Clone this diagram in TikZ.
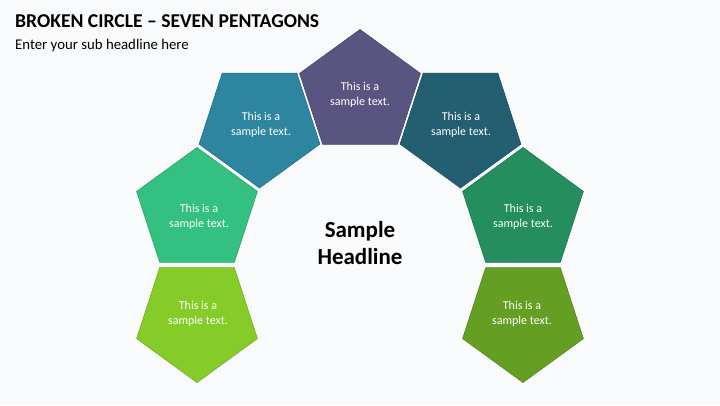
\documentclass[tikz,border=0pt]{standalone}
\usepackage{fontspec}
\setmainfont{Carlito}
\usetikzlibrary{shapes.geometric}
\definecolor{bgc}{HTML}{F9FAFB}
\definecolor{cpurple}{HTML}{5A5480}
\definecolor{cteal}{HTML}{2E85A0}
\definecolor{cdteal}{HTML}{235F70}
\definecolor{cgreen}{HTML}{34C080}
\definecolor{cdgreen}{HTML}{258E5E}
\definecolor{clime}{HTML}{86CC28}
\definecolor{colive}{HTML}{649E22}
\tikzset{
  pent/.style={regular polygon, regular polygon sides=5, minimum size=127pt,
    inner sep=0pt, outer sep=0pt, fill=#1, draw=#1!85!black, line width=0.6pt},
  pentdown/.style={pent=#1, shape border rotate=180},
  ptext/.style={text=white, align=center, font=\fontsize{12}{15}\selectfont},
}
\begin{document}
\begin{tikzpicture}[x=1pt,y=-1pt]
\fill[bgc] (0,0) rectangle (720,405);
\useasboundingbox (0,0) rectangle (720,405);
\node[anchor=base west, inner sep=0pt, font=\fontsize{19.6}{22}\selectfont\bfseries] (title) at (15,27) {BROKEN CIRCLE – SEVEN PENTAGONS};
\node[anchor=base west, inner sep=0pt, font=\fontsize{14.8}{17}\selectfont] (sub) at (15,49) {Enter your sub headline here};

\node[pent=cpurple] (p1) at (360,93) {};
\node[pentdown=cteal] (p2) at (259.5,124.5) {};
\node[pentdown=cdteal] (p3) at (460.5,124.5) {};
\node[pent=cgreen] (p4) at (197,211) {};
\node[pent=cdgreen] (p5) at (523,211) {};
\node[pentdown=clime] (p6) at (197,319) {};
\node[pentdown=colive] (p7) at (523,319) {};

\node[ptext] (t1) at (360,95) {This is a\\sample text.};
\node[ptext] (t2) at (261,125) {This is a\\sample text.};
\node[ptext] (t3) at (461,125) {This is a\\sample text.};
\node[ptext] (t4) at (199,217) {This is a\\sample text.};
\node[ptext] (t5) at (523,217) {This is a\\sample text.};
\node[ptext] (t6) at (198,314) {This is a\\sample text.};
\node[ptext] (t7) at (522,314) {This is a\\sample text.};

\node[align=center, font=\fontsize{23}{27}\selectfont\bfseries] (head) at (360,243) {Sample\\Headline};
\end{tikzpicture}
\end{document}
